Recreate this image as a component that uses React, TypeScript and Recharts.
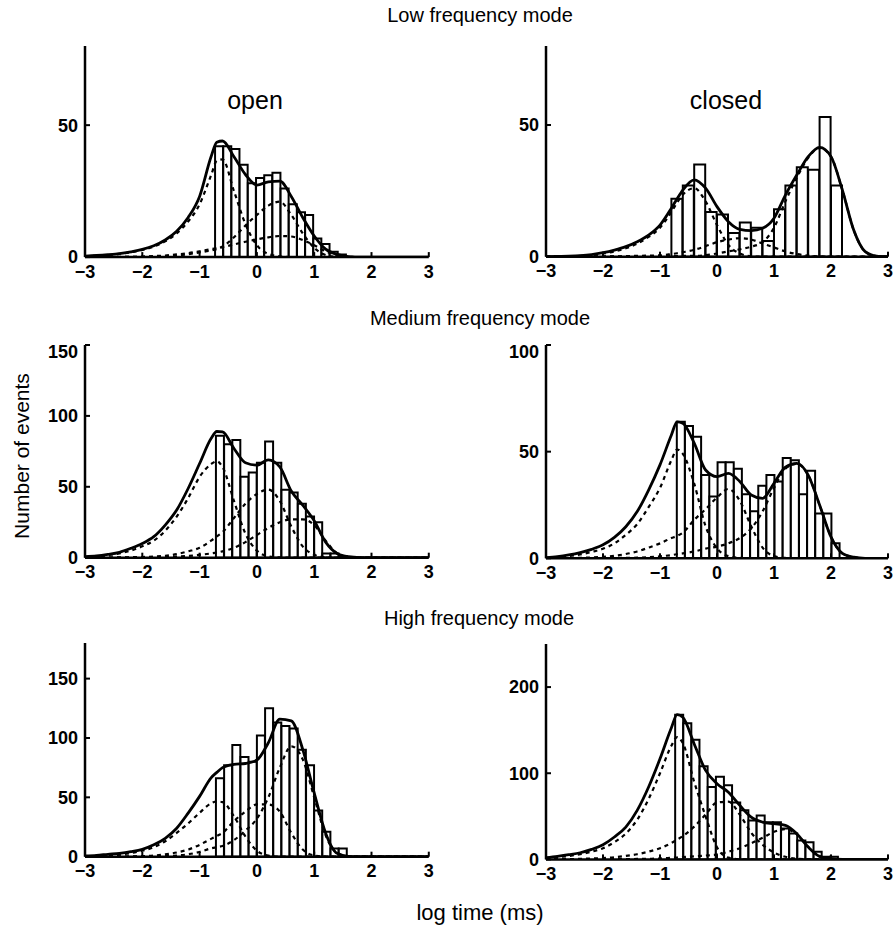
import { ComposedChart, Bar, Line, XAxis, YAxis } from 'recharts';

// log time grid (log10 ms) for the fitted curves
const xGrid = [-3, -2.8, -2.6, -2.4, -2.2, -2, -1.8, -1.6, -1.4, -1.2, -1, -0.8, -0.7, -0.6, -0.4, -0.2, 0, 0.2, 0.4, 0.6, 0.8, 1, 1.2, 1.4, 1.6, 1.8, 2, 2.2, 2.4, 2.6, 2.8, 3];
const xTicks = [-3, -2, -1, 0, 1, 2, 3];

// Low frequency mode, open
const lowOpenBins = [-0.659, -0.516, -0.373, -0.23, -0.087, 0.056, 0.199, 0.342, 0.485, 0.628, 0.771, 0.913, 1.056, 1.199, 1.342, 1.485];
const lowOpenCounts = [42, 42, 41, 35, 28, 30, 31, 32, 26, 20, 17, 16, 7, 5, 2, 1];
const lowOpenFit = [0.4, 0.6, 0.9, 1.3, 2, 2.9, 4.3, 6.5, 9.8, 15, 23, 38, 43.5, 44, 38, 31.3, 27.3, 28.5, 28.8, 23, 15, 8, 3, 1, 0.2, 0, 0, 0, 0, 0, 0, 0];
const lowOpenC1 = [0.3, 0.5, 0.8, 1.2, 1.8, 2.7, 4, 6, 9, 13.5, 20, 31, 36.5, 37, 25, 12.5, 4.5, 1.2, 0.3, 0, 0, 0, 0, 0, 0, 0, 0, 0, 0, 0, 0, 0];
const lowOpenC2 = [0, 0, 0, 0, 0.1, 0.1, 0.2, 0.3, 0.5, 1.1, 1.8, 2.5, 3, 4, 7.5, 12, 16, 19.5, 21, 16, 9, 3.5, 0.8, 0.1, 0, 0, 0, 0, 0, 0, 0, 0];
const lowOpenC3 = [0, 0, 0, 0.1, 0.1, 0.2, 0.4, 0.6, 1, 1.5, 2.2, 3, 3.4, 3.8, 4.8, 5.8, 6.7, 7.5, 8, 7.8, 6.5, 4.5, 2.2, 0.8, 0.2, 0, 0, 0, 0, 0, 0, 0];

// Low frequency mode, closed
const lowClosedBins = [-0.7, -0.5, -0.3, -0.1, 0.1, 0.3, 0.5, 0.7, 0.9, 1.1, 1.3, 1.5, 1.7, 1.9, 2.1];
const lowClosedCounts = [22, 27, 35, 17, 16, 9, 13, 11, 6, 18, 27, 34, 33, 53, 27];
const lowClosedFit = [0, 0.1, 0.2, 0.4, 0.8, 1.5, 2.5, 3.8, 5.7, 8.2, 12, 18.4, 22, 25.3, 29.2, 26, 19, 13.3, 10.4, 9.9, 10.8, 14.6, 23.4, 31, 38, 41.5, 38, 25.3, 10, 1.9, 0.2, 0];
const lowClosedC1 = [0, 0.1, 0.2, 0.3, 0.6, 1.2, 2, 3.2, 5, 7.5, 11, 17, 20.5, 23.5, 26, 21, 12, 4.5, 1.2, 0.2, 0, 0, 0, 0, 0, 0, 0, 0, 0, 0, 0, 0];
const lowClosedC2 = [0, 0, 0, 0, 0, 0.1, 0.1, 0.2, 0.3, 0.4, 0.5, 1, 1.3, 1.7, 2.6, 4, 5.5, 6.5, 7, 6.5, 5, 3.5, 2, 1, 0.4, 0.1, 0, 0, 0, 0, 0, 0];
const lowClosedC3 = [0, 0, 0, 0, 0, 0, 0, 0, 0, 0, 0.1, 0.2, 0.2, 0.3, 0.3, 0.6, 1.2, 2, 2.8, 3.8, 5.5, 11, 21, 30, 37.5, 41.3, 38, 25.3, 10, 1.9, 0.2, 0];

// Medium frequency mode, open
const medOpenBins = [-0.644, -0.501, -0.358, -0.215, -0.072, 0.071, 0.214, 0.357, 0.5, 0.643, 0.786, 0.929, 1.071, 1.214, 1.357, 1.5];
const medOpenCounts = [86, 80, 83, 57, 60, 67, 82, 67, 48, 46, 38, 29, 25, 3, 3, 1];
const medOpenFit = [0.7, 1.2, 2.3, 3.8, 6.6, 10, 14.8, 23, 33.6, 48.8, 66.4, 84, 89, 88.7, 77, 67, 65.3, 69, 64, 47, 37, 26, 11, 3, 0.7, 0.1, 0, 0, 0, 0, 0, 0];
const medOpenC1 = [0.5, 1, 1.8, 3, 5, 8, 12, 19, 29, 42, 57, 66, 68, 64, 40, 17, 5, 1, 0.2, 0, 0, 0, 0, 0, 0, 0, 0, 0, 0, 0, 0, 0];
const medOpenC2 = [0, 0, 0.1, 0.2, 0.3, 0.5, 0.8, 1.3, 2.5, 4.5, 7, 12, 15, 18, 28, 38, 45, 48, 40, 22, 8, 2, 0.3, 0, 0, 0, 0, 0, 0, 0, 0, 0];
const medOpenC3 = [0, 0, 0, 0, 0.1, 0.1, 0.2, 0.4, 0.7, 1.2, 2, 3, 3.6, 4.5, 7, 11, 16, 21, 25, 27, 27, 23, 12, 3, 0.5, 0, 0, 0, 0, 0, 0, 0];

// Medium frequency mode, closed
const medClosedBins = [-0.634, -0.491, -0.348, -0.205, -0.062, 0.081, 0.224, 0.367, 0.51, 0.652, 0.795, 0.938, 1.081, 1.224, 1.367, 1.51, 1.652, 1.795, 1.938, 2.081];
const medClosedCounts = [64, 62, 57, 39, 29, 45, 45, 42, 30, 22, 34, 39, 36, 47, 46, 30, 41, 21, 21, 7];
const medClosedFit = [0.3, 0.8, 1.6, 2.7, 4.2, 6.3, 9.8, 14.8, 21.9, 32, 43.8, 57.8, 64, 63.3, 54, 41.4, 38.3, 39.8, 36, 29.7, 28.1, 35.2, 42.7, 44.5, 39, 25, 10, 2.3, 0.5, 0, 0, 0];
const medClosedC1 = [0.2, 0.5, 1, 1.8, 3, 4.5, 7, 11, 16, 24, 33, 46, 51, 49, 35, 15, 4.7, 1, 0.2, 0, 0, 0, 0, 0, 0, 0, 0, 0, 0, 0, 0, 0];
const medClosedC2 = [0, 0, 0.1, 0.2, 0.4, 0.7, 1.2, 2, 3.2, 5, 7, 9.5, 10.5, 12, 18, 23, 28.5, 32.5, 27, 15, 5, 1, 0.2, 0, 0, 0, 0, 0, 0, 0, 0, 0];
const medClosedC3 = [0, 0, 0, 0, 0.1, 0.1, 0.2, 0.2, 0.3, 0.5, 0.9, 1.5, 1.9, 2.3, 3.2, 4.5, 5.5, 7, 9.5, 14, 22, 33, 42, 44.3, 39, 25, 10, 2.3, 0.5, 0, 0, 0];

// High frequency mode, open
const highOpenBins = [-0.644, -0.501, -0.358, -0.215, -0.072, 0.071, 0.214, 0.357, 0.5, 0.643, 0.786, 0.929, 1.071, 1.214, 1.357, 1.5];
const highOpenCounts = [66, 77, 94, 84, 80, 102, 125, 113, 110, 108, 90, 77, 39, 21, 7, 7];
const highOpenFit = [0.6, 1.1, 2, 2.8, 4.2, 6.2, 10, 15.5, 24, 36.7, 50.8, 66.4, 71, 75, 77.7, 78.5, 81.4, 96, 115.8, 114.4, 90.4, 53.7, 19.8, 2.8, 0.3, 0, 0, 0, 0, 0, 0, 0];
const highOpenC1 = [0.3, 0.5, 1, 1.8, 3, 5, 8, 13, 20, 28, 37, 45, 46.5, 46, 34, 17, 5, 1, 0, 0, 0, 0, 0, 0, 0, 0, 0, 0, 0, 0, 0, 0];
const highOpenC2 = [0, 0, 0, 0.1, 0.2, 0.5, 1, 2, 3.5, 6, 10, 15, 17.5, 20, 30, 38, 44, 44, 38, 20, 6, 1, 0, 0, 0, 0, 0, 0, 0, 0, 0, 0];
const highOpenC3 = [0, 0, 0, 0, 0, 0.1, 0.2, 0.4, 1, 2, 4, 7, 8, 9, 14, 22, 32, 50, 75, 93, 82, 50, 18, 3, 0.3, 0, 0, 0, 0, 0, 0, 0];

// High frequency mode, closed
const highClosedBins = [-0.663, -0.52, -0.377, -0.234, -0.091, 0.052, 0.195, 0.338, 0.481, 0.624, 0.767, 0.909, 1.052, 1.195, 1.338, 1.481, 1.624, 1.767, 1.909, 2.052];
const highClosedCounts = [168, 158, 139, 108, 84, 96, 86, 66, 57, 45, 51, 43, 43, 36, 30, 22, 20, 9, 3, 3];
const highClosedFit = [1.9, 3.5, 5.4, 7.7, 11.6, 17, 26, 37.5, 56.9, 84, 116.8, 152.8, 168, 165, 134, 103.3, 87.8, 78, 62.7, 49, 43.3, 41.4, 39.5, 29.8, 14.3, 3.5, 0.8, 0.1, 0, 0, 0, 0];
const highClosedC1 = [1.2, 2.5, 4, 6, 9, 13, 20, 30, 46, 70, 100, 132, 142, 135, 90, 50, 14, 2, 0.2, 0, 0, 0, 0, 0, 0, 0, 0, 0, 0, 0, 0, 0];
const highClosedC2 = [0, 0.1, 0.3, 0.6, 1, 1.6, 2.5, 4, 6, 9, 13, 19, 23, 27, 38, 52, 66, 67, 52, 31, 17, 8, 3, 0.8, 0.2, 0, 0, 0, 0, 0, 0, 0];
const highClosedC3 = [0, 0, 0, 0, 0, 0.1, 0.2, 0.3, 0.5, 0.7, 1, 1.8, 2.2, 2.6, 3.5, 4.5, 5.6, 9, 13, 18.6, 25, 32, 35, 29, 14.3, 3.5, 0.8, 0.1, 0, 0, 0, 0];

const FONT = '"Liberation Sans", Arial, Helvetica, sans-serif';
const Y_AXIS_W = 46;
const X_AXIS_H = 30;
const MARGIN = { top: 4, right: 8, bottom: 0, left: 0 };

const fmtTick = (v: number) => (v < 0 ? `\u2212${-v}` : `${v}`);
const tickStyle = { fill: '#000', fontSize: 18, fontWeight: 700, fontFamily: FONT };

interface PanelProps {
  // plot area: left, top, width, height in page pixels
  box: [number, number, number, number];
  yMax: number;
  yTicks: number[];
  bins: number[];
  counts: number[];
  fit: number[];
  parts: number[][];
}

function Panel({ box, yMax, yTicks, bins, counts, fit, parts }: PanelProps) {
  const [px, py, pw, ph] = box;
  const width = pw + Y_AXIS_W + MARGIN.left + MARGIN.right;
  const height = ph + X_AXIS_H + MARGIN.top + MARGIN.bottom;
  const pos: React.CSSProperties = {
    position: 'absolute',
    left: px - Y_AXIS_W - MARGIN.left,
    top: py - MARGIN.top,
  };

  const barData = bins.map((x, i) => ({ x, n: counts[i] }));
  const curveData = xGrid.map((x, i) => {
    const row: Record<string, number> = { x, fit: fit[i] };
    parts.forEach((p, k) => {
      row[`c${k}`] = p[i];
    });
    return row;
  });

  return (
    <>
      <div style={pos}>
        <ComposedChart width={width} height={height} data={barData} margin={MARGIN} barCategoryGap={0} barGap={0}>
          <XAxis type="number" dataKey="x" domain={[-3, 3]} ticks={xTicks} height={X_AXIS_H}
            tick={false} tickLine={false} axisLine={false} allowDataOverflow />
          <YAxis type="number" domain={[0, yMax]} ticks={yTicks} width={Y_AXIS_W}
            tick={false} tickLine={false} axisLine={false} allowDataOverflow />
          <Bar dataKey="n" fill="#fff" stroke="#000" strokeWidth={2} isAnimationActive={false} />
        </ComposedChart>
      </div>
      <div style={pos}>
        <ComposedChart width={width} height={height} data={curveData} margin={MARGIN}>
          <XAxis type="number" dataKey="x" domain={[-3, 3]} ticks={xTicks} height={X_AXIS_H}
            tickFormatter={fmtTick} tick={tickStyle} tickSize={-5} tickMargin={13}
            axisLine={{ stroke: '#000', strokeWidth: 2.5 }} tickLine={{ stroke: '#000', strokeWidth: 2 }}
            allowDataOverflow />
          <YAxis type="number" domain={[0, yMax]} ticks={yTicks} width={Y_AXIS_W}
            tick={tickStyle} tickSize={-5} tickMargin={12}
            axisLine={{ stroke: '#000', strokeWidth: 2.5 }} tickLine={{ stroke: '#000', strokeWidth: 2 }}
            allowDataOverflow />
          {parts.map((_, k) => (
            <Line key={k} type="monotone" dataKey={`c${k}`} stroke="#000" strokeWidth={2.2}
              strokeDasharray="4 4" dot={false} isAnimationActive={false} />
          ))}
          <Line type="monotone" dataKey="fit" stroke="#000" strokeWidth={2.8} dot={false} isAnimationActive={false} />
        </ComposedChart>
      </div>
    </>
  );
}

const label = (text: string, x: number, y: number, size: number, rotate = 0): React.ReactNode => (
  <div
    style={{
      position: 'absolute',
      left: x,
      top: y,
      transform: `translate(-50%, -50%) rotate(${rotate}deg)`,
      fontFamily: FONT,
      fontSize: size,
      whiteSpace: 'nowrap',
      color: '#000',
      lineHeight: 1,
    }}
  >
    {text}
  </div>
);

export default function App() {
  return (
    <div style={{ position: 'absolute', left: 0, top: 0, width: 894, height: 931, background: '#fff', overflow: 'hidden' }}>
      <Panel box={[84.8, 45.6, 343.8, 211.1]} yMax={80} yTicks={[0, 50]} bins={lowOpenBins}
        counts={lowOpenCounts} fit={lowOpenFit} parts={[lowOpenC1, lowOpenC2, lowOpenC3]} />
      <Panel box={[546.3, 46, 342, 210.7]} yMax={80} yTicks={[0, 50]} bins={lowClosedBins}
        counts={lowClosedCounts} fit={lowClosedFit} parts={[lowClosedC1, lowClosedC2, lowClosedC3]} />
      <Panel box={[84.8, 345, 343.8, 212.7]} yMax={150} yTicks={[0, 50, 100, 150]} bins={medOpenBins}
        counts={medOpenCounts} fit={medOpenFit} parts={[medOpenC1, medOpenC2, medOpenC3]} />
      <Panel box={[546.3, 345, 342, 213.3]} yMax={100} yTicks={[0, 50, 100]} bins={medClosedBins}
        counts={medClosedCounts} fit={medClosedFit} parts={[medClosedC1, medClosedC2, medClosedC3]} />
      <Panel box={[84.8, 643, 343.8, 213.7]} yMax={180} yTicks={[0, 50, 100, 150]} bins={highOpenBins}
        counts={highOpenCounts} fit={highOpenFit} parts={[highOpenC1, highOpenC2, highOpenC3]} />
      <Panel box={[546.3, 643.6, 342, 215.4]} yMax={250} yTicks={[0, 100, 200]} bins={highClosedBins}
        counts={highClosedCounts} fit={highClosedFit} parts={[highClosedC1, highClosedC2, highClosedC3]} />

      {label('Low frequency mode', 480, 15, 20)}
      {label('Medium frequency mode', 480, 318, 20)}
      {label('High frequency mode', 479, 618, 20)}
      {label('open', 255, 100, 25)}
      {label('closed', 726, 100, 25)}
      {label('Number of events', 21, 456, 21, -90)}
      {label('log time (ms)', 480, 913, 22)}
    </div>
  );
}
